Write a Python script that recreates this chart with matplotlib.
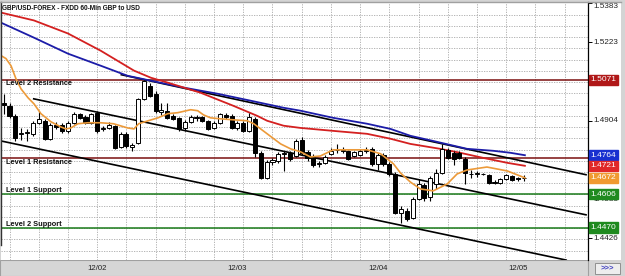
import matplotlib
matplotlib.use("Agg")
import matplotlib.pyplot as plt
import matplotlib.transforms as mtransforms
from matplotlib.patches import Rectangle
import numpy as np

title = "GBP/USD-FOREX - FXDD 60-Min GBP to USD"

# ---- hourly candles (bar index 0..89) ----
opens = [1.4977, 1.4965, 1.4924, 1.4851, 1.4855, 1.4851, 1.4896, 1.4904, 1.4831, 1.4888,
         1.4888, 1.4863, 1.4896, 1.4933, 1.4920, 1.4896, 1.4937, 1.4871, 1.4875, 1.4884,
         1.4798, 1.4851, 1.4798, 1.4814, 1.4994, 1.5047, 1.5014, 1.4941, 1.4945, 1.4924,
         1.4916, 1.4875, 1.4900, 1.4916, 1.4920, 1.4904, 1.4875, 1.4896, 1.4928, 1.4924,
         1.4875, 1.4896, 1.4863, 1.4912, 1.4774, 1.4672, 1.4737, 1.4741, 1.4770, 1.4774,
         1.4761, 1.4827, 1.4778, 1.4761, 1.4729, 1.4733, 1.4770, 1.4786, 1.4786, 1.4782,
         1.4761, 1.4765, 1.4782, 1.4790, 1.4729, 1.4765, 1.4729, 1.4688, 1.4529, 1.4537,
         1.4509, 1.4586, 1.4643, 1.4594, 1.4647, 1.4692, 1.4786, 1.4774, 1.4774, 1.4749,
         1.4688, 1.4688, 1.4688, 1.4684, 1.4655, 1.4651, 1.4668, 1.4680, 1.4672, 1.4670]
highs = [1.5014, 1.4977, 1.4933, 1.4875, 1.4871, 1.4904, 1.4945, 1.4912, 1.4896, 1.4900,
         1.4896, 1.4904, 1.4941, 1.4937, 1.4928, 1.4937, 1.4945, 1.4884, 1.4900, 1.4888,
         1.4859, 1.4859, 1.4814, 1.4998, 1.5071, 1.5059, 1.5026, 1.4977, 1.4977, 1.4933,
         1.4920, 1.4908, 1.4928, 1.4928, 1.4924, 1.4908, 1.4904, 1.4937, 1.4937, 1.4933,
         1.4904, 1.4904, 1.4937, 1.4920, 1.4782, 1.4745, 1.4753, 1.4778, 1.4782, 1.4782,
         1.4831, 1.4839, 1.4786, 1.4770, 1.4741, 1.4765, 1.4794, 1.4810, 1.4798, 1.4786,
         1.4782, 1.4790, 1.4798, 1.4798, 1.4774, 1.4774, 1.4737, 1.4696, 1.4557, 1.4549,
         1.4594, 1.4668, 1.4651, 1.4680, 1.4708, 1.4810, 1.4794, 1.4782, 1.4782, 1.4757,
         1.4704, 1.4700, 1.4692, 1.4688, 1.4664, 1.4672, 1.4688, 1.4684, 1.4676, 1.4684]
lows = [1.4933, 1.4916, 1.4822, 1.4827, 1.4822, 1.4843, 1.4892, 1.4827, 1.4827, 1.4871,
        1.4855, 1.4855, 1.4892, 1.4912, 1.4892, 1.4892, 1.4855, 1.4863, 1.4871, 1.4790,
        1.4794, 1.4794, 1.4782, 1.4810, 1.4990, 1.5002, 1.4937, 1.4928, 1.4912, 1.4908,
        1.4863, 1.4863, 1.4896, 1.4904, 1.4900, 1.4867, 1.4871, 1.4892, 1.4912, 1.4871,
        1.4867, 1.4859, 1.4859, 1.4757, 1.4668, 1.4668, 1.4725, 1.4733, 1.4700, 1.4741,
        1.4757, 1.4765, 1.4741, 1.4717, 1.4717, 1.4729, 1.4765, 1.4774, 1.4774, 1.4745,
        1.4757, 1.4761, 1.4774, 1.4721, 1.4704, 1.4721, 1.4680, 1.4525, 1.4488, 1.4497,
        1.4505, 1.4582, 1.4578, 1.4578, 1.4627, 1.4688, 1.4749, 1.4725, 1.4749, 1.4647,
        1.4672, 1.4676, 1.4684, 1.4647, 1.4647, 1.4647, 1.4664, 1.4660, 1.4660, 1.4660]
closes = [1.4969, 1.4924, 1.4835, 1.4855, 1.4859, 1.4896, 1.4912, 1.4831, 1.4888, 1.4880,
          1.4863, 1.4896, 1.4933, 1.4916, 1.4896, 1.4933, 1.4863, 1.4875, 1.4888, 1.4794,
          1.4851, 1.4802, 1.4806, 1.4994, 1.5067, 1.5006, 1.4945, 1.4949, 1.4916, 1.4912,
          1.4871, 1.4900, 1.4920, 1.4920, 1.4904, 1.4871, 1.4896, 1.4933, 1.4920, 1.4875,
          1.4896, 1.4863, 1.4920, 1.4774, 1.4672, 1.4737, 1.4745, 1.4770, 1.4774, 1.4749,
          1.4822, 1.4774, 1.4753, 1.4725, 1.4733, 1.4757, 1.4782, 1.4784, 1.4782, 1.4749,
          1.4778, 1.4782, 1.4786, 1.4729, 1.4765, 1.4729, 1.4688, 1.4529, 1.4545, 1.4505,
          1.4586, 1.4647, 1.4590, 1.4672, 1.4692, 1.4790, 1.4753, 1.4749, 1.4753, 1.4692,
          1.4686, 1.4690, 1.4686, 1.4651, 1.4653, 1.4668, 1.4684, 1.4664, 1.4668, 1.4672]

# ---- moving averages (bar index, price) ----
ma_fast_x = [-0.46, 0.39, 1.25, 2.10, 2.96, 4.15, 5.18, 6.37, 8.08, 9.79, 10.64, 11.5, 12.7,
             14.4, 16.6, 18.8, 21.2, 22.3, 23.1, 24.7, 26.4, 28.1, 29.8, 32.0, 33.2, 34.2,
             35.4, 37.1, 39.3, 41.7, 42.8, 45.1, 47.4, 49.1, 50.8, 52.5, 54.2, 56.4, 59.3,
             62.2, 64.5, 66.7, 67.9, 69.6, 71.3, 73.5, 75.9, 77.6, 79.3, 82.7, 86.2, 89.2]
ma_fast = [1.5169, 1.5157, 1.5128, 1.5075, 1.5034, 1.4998, 1.4973, 1.4933, 1.4900, 1.4879,
           1.4871, 1.4875, 1.4892, 1.4896, 1.4896, 1.4892, 1.4875, 1.4871, 1.4892, 1.4904,
           1.4916, 1.4933, 1.4937, 1.4949, 1.4945, 1.4928, 1.4916, 1.4912, 1.4908, 1.4904,
           1.4892, 1.4851, 1.4810, 1.4790, 1.4778, 1.4757, 1.4761, 1.4786, 1.4786, 1.4786,
           1.4770, 1.4729, 1.4692, 1.4655, 1.4627, 1.4619, 1.4647, 1.4688, 1.4704, 1.4716,
           1.4700, 1.4672]
ma_mid_x = [-0.46, 5.18, 11.0, 16.6, 22.3, 25.2, 28.1, 33.7, 39.3, 43.4, 45.1, 47.9, 50.8,
            56.4, 62.2, 66.2, 69.6, 74.7, 78.1, 82.1, 86.2, 89.2]
ma_mid = [1.5344, 1.5312, 1.5259, 1.5189, 1.5108, 1.5079, 1.5059, 1.5018, 1.4965, 1.4924,
          1.4904, 1.4884, 1.4875, 1.4863, 1.4851, 1.4831, 1.4810, 1.4790, 1.4774, 1.4753,
          1.4733, 1.4721]
ma_slow_x = [-0.46, 5.18, 11.0, 16.6, 21.2, 25.2, 30.8, 36.6, 42.2, 47.9, 50.8, 56.4, 62.2,
             66.2, 69.6, 73.5, 79.3, 83.8, 86.7, 89.2]
ma_slow = [1.5303, 1.5242, 1.5177, 1.5128, 1.5087, 1.5067, 1.5039, 1.5014, 1.4986, 1.4957,
           1.4945, 1.4916, 1.4892, 1.4871, 1.4843, 1.4822, 1.4790, 1.4782, 1.4774, 1.4764]

# ---- trend lines (two end points each) ----
trend_upper_x = [5.0, 99.8]
trend_upper_y = [1.4994, 1.4521]
trend_lower_x = [-0.46, 96.4]
trend_lower_y = [1.4822, 1.4337]
trend_top_x = [20.0, 99.8]
trend_top_y = [1.5092, 1.4684]

# ---- horizontal levels ----
level_names = ["Level 2 Resistance", "Level 1 Resistance", "Level 1 Support", "Level 2 Support"]
level_values = [1.5071, 1.4751, 1.4606, 1.4470]

# ---- axis labels ----
price_ticks = [1.5383, 1.5223, 1.4904, 1.4585, 1.4426]
tag_values = [1.5071, 1.4764, 1.4721, 1.4672, 1.4606, 1.4470]
date_labels = ["12/02", "12/03", "12/04", "12/05"]
date_pos = [16, 40, 64, 88]

W, H = 625, 276
fig = plt.figure(figsize=(W / 100, H / 100), dpi=100, facecolor="#d4d4d4")
FONT = ["Liberation Sans", "DejaVu Sans"]

def fx(px):
    return px / W

def fy(py):
    return 1 - py / H

L, R, T, B = 1, 588, 2, 260
# price axis white strip
fig.patches.append(Rectangle((fx(R), fy(B)), fx(621 - R), fy(T) - fy(B),
                             transform=fig.transFigure, facecolor="white",
                             edgecolor="none", zorder=-2))
# date bar
fig.patches.append(Rectangle((0, 0), fx(R), fy(B), transform=fig.transFigure,
                             facecolor="#d6d6d6", edgecolor="#a0a0a0", lw=0.8, zorder=-2))
ax = fig.add_axes([fx(L), fy(B), fx(R - L), fy(T) - fy(B)])
ax.set_facecolor("white")
ax.set_xlim(-0.46, 100.0)
ax.set_ylim(1.4338, 1.5387)

# grid
for gx in np.arange(1, 100, 5):
    ax.axvline(gx, color="#a8a8a8", lw=0.6, ls=(0, (1.5, 1.5)), zorder=0)
for gy in np.arange(1.5335, 1.433, -0.004566):
    ax.axhline(gy, color="#a8a8a8", lw=0.6, ls=(0, (1.5, 1.5)), zorder=0)

# levels
level_colors = ["#7a1010", "#7a1010", "#1a7a1a", "#1a7a1a"]
for name, val, col in zip(level_names, level_values, level_colors):
    ax.axhline(val, color=col, lw=1.1, zorder=1)
level_text_off = [-0.0016, -0.0017, 0.0013, 0.0013]
for name, val, off in zip(level_names, level_values, level_text_off):
    ax.text(0.45, val + off, name, fontsize=5.3, family=FONT, weight="bold",
            color="#111111", va="center", ha="left", zorder=6)

# trend lines
for xs, ys in [(trend_upper_x, trend_upper_y), (trend_lower_x, trend_lower_y),
               (trend_top_x, trend_top_y)]:
    ax.plot(xs, ys, color="black", lw=1.2, zorder=2, solid_capstyle="butt")

# MAs
ax.plot(ma_slow_x, ma_slow, color="#1c1ca8", lw=1.3, zorder=3)
ax.plot(ma_mid_x, ma_mid, color="#d42020", lw=1.3, zorder=3)
ax.plot(ma_fast_x, ma_fast, color="#ec9a3a", lw=1.2, zorder=5)

# candles
idx = np.arange(len(opens))
o = np.array(opens); c = np.array(closes); h = np.array(highs); lo = np.array(lows)
ax.vlines(idx, lo, h, color="black", lw=0.8, zorder=4)
bottoms = np.minimum(o, c)
heights = np.maximum(np.abs(c - o), 0.00003)
colors = np.where(c >= o, "white", "black")
ax.bar(idx, heights, bottom=bottoms, width=0.7, color=colors, edgecolor="black",
       linewidth=0.7, zorder=4)

# axes styling
for s in ["top", "bottom", "left"]:
    ax.spines[s].set_visible(False)
ax.spines["right"].set_color("black")
ax.spines["right"].set_linewidth(0.9)
ax.set_xticks([])
ax.yaxis.tick_right()
ax.set_yticks(price_ticks)
ax.set_yticklabels([])
ax.tick_params(axis="y", length=3, width=0.7, color="black", direction="out")

trans = mtransforms.blended_transform_factory(ax.transAxes, ax.transData)
for i, p in enumerate(price_ticks):
    ax.text(1.0085, p, f"{p:.4f}", transform=trans, fontsize=5.9, family=FONT,
            color="#222222", va="top" if i == 0 else "center", ha="left",
            clip_on=False, zorder=6)

tag_colors = ["#b01818", "#1830d0", "#e02828", "#f09a30", "#1f8a1f", "#1f8a1f"]
for v, col in zip(tag_values, tag_colors):
    ax.text(1.0045, v, f"{v:.4f}", transform=trans, fontsize=6.0, family=FONT,
            color="white", va="center", ha="left", clip_on=False, zorder=7,
            bbox=dict(boxstyle="square,pad=0.2", facecolor=col, edgecolor=col))

# left frame line and top border
fig.add_artist(plt.Line2D([fx(0.5), fx(0.5)], [fy(245), fy(T)], transform=fig.transFigure,
                          color="#333333", lw=1.0))
fig.add_artist(plt.Line2D([0, fx(621)], [fy(1.5), fy(1.5)], transform=fig.transFigure,
                          color="#a0a0a0", lw=1.0))

# title
fig.text(fx(2.5), fy(8.5), title, fontsize=4.7, family=FONT, weight="bold",
         color="#111111", va="center", ha="left")

# date labels
dtrans = mtransforms.blended_transform_factory(ax.transData, fig.transFigure)
for pos, lab in zip(date_pos, date_labels):
    ax.text(pos, fy(268.5), lab, transform=dtrans, fontsize=5.6, family=FONT,
            color="#222222", ha="center", va="center", clip_on=False)

# >>> button
fig.patches.append(Rectangle((fx(595), fy(274)), fx(25), fy(263) - fy(274),
                             transform=fig.transFigure, facecolor="#eeeeee",
                             edgecolor="#909090", lw=0.7, zorder=1))
fig.text(fx(607.5), fy(268.5), ">>>", fontsize=5.5, family=FONT, weight="bold",
         color="#4040c0", ha="center", va="center", zorder=3)

fig.savefig("out.png", dpi=100, facecolor=fig.get_facecolor())
